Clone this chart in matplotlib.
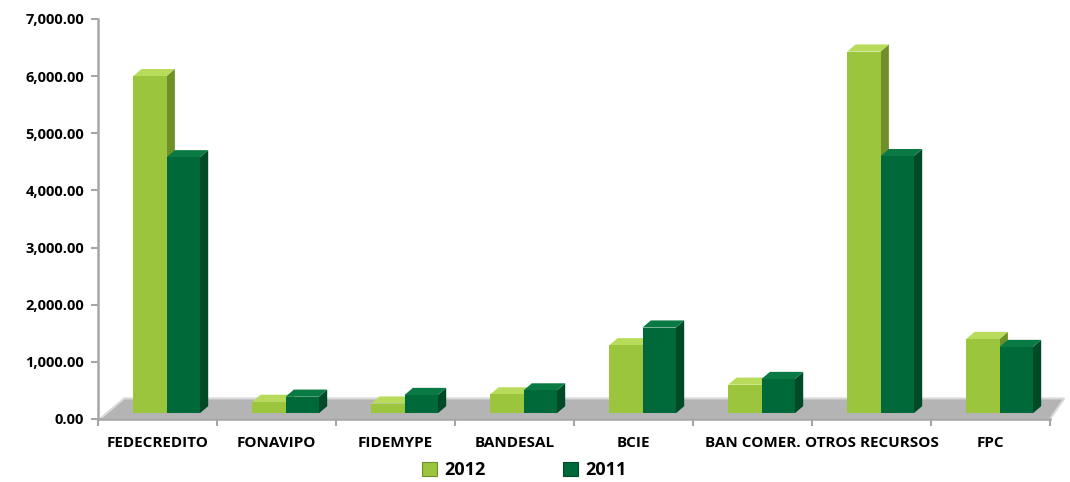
import numpy as np
import matplotlib.pyplot as plt
from matplotlib.patches import Polygon, Patch

# data
categorias = ["FEDECREDITO", "FONAVIPO", "FIDEMYPE", "BANDESAL", "BCIE",
              "BAN COMER.", "OTROS RECURSOS", "FPC"]
v2012 = [6000, 300, 270, 430, 1290, 600, 6430, 1400]
v2011 = [4580, 390, 420, 500, 1600, 700, 4600, 1260]
anos = ["2012", "2011"]

# colours: front, side, top
cores = {
    "2012": ("#9cc53e", "#6f8f28", "#b9db5c"),
    "2011": ("#00693a", "#004a27", "#0a7a45"),
}

plt.rcParams['font.family'] = ['Open Sans', 'DejaVu Sans']

fig = plt.figure(figsize=(10.7, 4.82), dpi=100)
ax = fig.add_axes([98 / 1070, 63 / 482, 952 / 1070, 400 / 482])

BASE = 100      # bars stand slightly above the front edge of the floor
DX, DY = 0.07, 125
W = 0.28
x = np.arange(len(categorias))

# floor
floor = Polygon([(-0.485, 0), (7.5, 0), (7.62, 360), (-0.28, 360)],
                closed=True, facecolor="#b4b4b4", edgecolor="#d9d9d9",
                lw=1.5, zorder=1)
ax.add_patch(floor)


def bar3d(xc, val, ano, z):
    fr, sd, tp = cores[ano]
    x0, x1 = xc - W / 2, xc + W / 2
    ax.bar(xc, val - BASE, W, bottom=BASE, color=fr, zorder=z + 0.2,
           linewidth=0)
    ax.add_patch(Polygon([(x1, BASE), (x1 + DX, BASE + DY), (x1 + DX, val + DY),
                          (x1, val)], closed=True, facecolor=sd, lw=0,
                         zorder=z))
    ax.add_patch(Polygon([(x0, val), (x0 + DX, val + DY), (x1 + DX, val + DY),
                          (x1, val)], closed=True, facecolor=tp, lw=0,
                         zorder=z + 0.1))


for i in range(len(categorias)):
    bar3d(x[i] - 0.064, v2012[i], "2012", 2 + i)
    bar3d(x[i] + 0.216, v2011[i], "2011", 2.5 + i)

ax.set_xlim(-0.5, 7.5)
ax.set_ylim(0, 7000)
ax.set_yticks(np.arange(0, 7001, 1000))
ax.set_yticklabels([f"{v:,.2f}" for v in range(0, 7001, 1000)],
                   fontsize=10.5, fontweight="bold")
ax.set_xticks(x)
ax.set_xticklabels(categorias, fontsize=11, fontweight="bold")
ax.set_xticks(np.arange(-0.5, 7.6, 1), minor=True)
ax.tick_params(axis="x", which="major", length=0, pad=12)
ax.tick_params(axis="x", which="minor", length=5, width=1.5, color="#a6a6a6")
ax.tick_params(axis="y", length=5, width=1.5, color="#a6a6a6", pad=5)

for s in ["top", "right"]:
    ax.spines[s].set_visible(False)
for s in ["left", "bottom"]:
    ax.spines[s].set_color("#a6a6a6")
    ax.spines[s].set_linewidth(1.8)
for p in ax.patches:
    p.set_clip_on(False)

handles = [Patch(facecolor=cores[a][0], edgecolor=cores[a][1], lw=0.8)
           for a in anos]
fig.legend(handles, anos, loc="center", bbox_to_anchor=(0.49, 0.025),
           ncol=2, frameon=False, handlelength=0.8, handleheight=0.8,
           handletextpad=0.4, columnspacing=4.3,
           prop={"weight": "bold", "size": 13})

fig.savefig("out.png", dpi=100)
